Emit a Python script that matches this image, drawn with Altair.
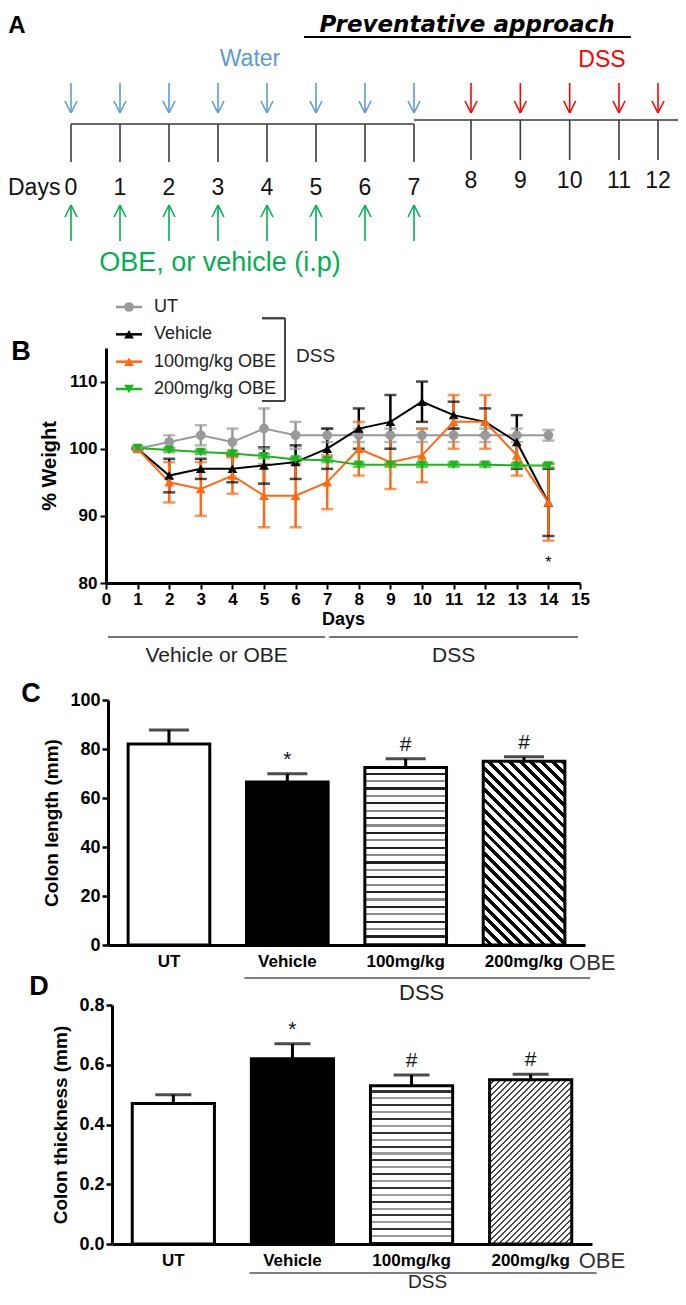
import altair as alt
import pandas as pd

W, H = 670, 1284
F = "Liberation Sans"

# ---------------- Panel A : protocol timeline ----------------
phase_names = ["Water", "DSS"]
phase_colors = ["#5B9BD5", "#FF0000"]
water_days = [0, 1, 2, 3, 4, 5, 6, 7]
dss_days = [8, 9, 10, 11, 12]
injection_days = [0, 1, 2, 3, 4, 5, 6, 7]
injection_label = "OBE, or vehicle (i.p)"
injection_color = "#00B050"
panelA_title = "Preventative approach"

# ---------------- Panel B : % body weight ----------------
weight_days = list(range(1, 15))
series_names = ["UT", "Vehicle", "100mg/kg OBE", "200mg/kg OBE"]
series_colors = ["#999999", "#000000", "#FF6A13", "#1DB51D"]
series_shapes = ["circle", "triangle-up", "triangle-up", "triangle-down"]
ut_mean = [100, 101, 102, 101, 103, 102, 102, 102, 102, 102, 102, 102, 102, 102]
ut_err = [0, 1, 1.5, 2, 3, 2, 1, 1, 1, 1, 1, 1, 1, 0.8]
veh_mean = [100, 96, 97, 97, 97.5, 98, 100, 103, 104, 107, 105, 104, 101, 92]
veh_err = [0, 2.5, 1.5, 2, 2.7, 2.5, 3, 3, 4, 3, 2, 2, 4, 5]
obe100_mean = [100, 95, 94, 96, 93, 93, 95, 100, 98, 99, 104, 104, 99, 92]
obe100_err = [0, 3, 4, 2.7, 4.7, 4.7, 4, 4, 4, 4, 4, 4, 3, 5.7]
obe200_mean = [100.1, 99.8, 99.5, 99.3, 98.9, 98.4, 98.3, 97.6, 97.6, 97.6, 97.6, 97.6, 97.5, 97.5]
obe200_err = [0.3, 0.3, 0.3, 0.3, 0.3, 0.3, 0.3, 0.3, 0.3, 0.3, 0.3, 0.3, 0.3, 0.3]
weight_star_day = [14]
weight_star_value = [83]
period_names = ["Vehicle or OBE", "DSS"]
period_start = [0, 7]
period_end = [7, 15]

# ---------------- Panels C, D : colon ----------------
groups = ["UT", "Vehicle", "100mg/kg", "200mg/kg"]
length_mean = [82, 66.5, 72.5, 75]
length_err = [5.8, 3.4, 3.5, 1.8]
length_marks = ["", "*", "#", "#"]
thick_mean = [0.47, 0.62, 0.53, 0.55]
thick_err = [0.03, 0.05, 0.036, 0.018]
thick_marks = ["", "*", "#", "#"]


def txt(text, x, y, size, color="#000000", weight="normal", style="normal",
        align="center", baseline="middle", font=F):
    return alt.Chart(pd.DataFrame({"t": [text]})).mark_text(
        fontSize=size, color=color, fontWeight=weight, fontStyle=style,
        align=align, baseline=baseline, font=font,
    ).encode(x=alt.value(x), y=alt.value(y), text="t:N")


# ======================= PANEL A =======================
scaleA = alt.Scale(domain=[0, 7, 8, 11, 12], range=[63, 406, 463, 611, 650])


def xA(field="day"):
    return alt.X(f"{field}:Q", scale=scaleA, axis=None)


def arrows(df, color, y_tail, y_tip):
    d = 1 if y_tip > y_tail else -1
    base = alt.Chart(df)
    shaft = base.mark_rule(strokeWidth=1.6, color=color).encode(
        x=xA(), y=alt.value(y_tail), y2=alt.value(y_tip))
    hl = base.mark_rule(strokeWidth=1.6, color=color, x2Offset=-6).encode(
        x=xA(), x2="day:Q", y=alt.value(y_tip), y2=alt.value(y_tip - d * 12))
    hr = base.mark_rule(strokeWidth=1.6, color=color, x2Offset=6).encode(
        x=xA(), x2="day:Q", y=alt.value(y_tip), y2=alt.value(y_tip - d * 12))
    return [shaft, hl, hr]


water_df = pd.DataFrame({"day": water_days})
dss_df = pd.DataFrame({"day": dss_days})
inj_df = pd.DataFrame({"day": injection_days})

line_col = "#3A3A3A"
tl_left = alt.Chart(pd.DataFrame({"s": [water_days[0]], "e": [water_days[-1]]})).mark_rule(
    strokeWidth=1.6, color=line_col).encode(x=xA("s"), x2="e:Q", y=alt.value(116))
tl_right = alt.Chart(pd.DataFrame({"s": [water_days[-1]]})).mark_rule(
    strokeWidth=1.6, color=line_col).encode(x=xA("s"), x2=alt.value(W), y=alt.value(112))
ticks_left = alt.Chart(water_df).mark_rule(strokeWidth=1.6, color=line_col).encode(
    x=xA(), y=alt.value(116), y2=alt.value(154))
ticks_right = alt.Chart(dss_df).mark_rule(strokeWidth=1.6, color=line_col).encode(
    x=xA(), y=alt.value(112), y2=alt.value(152))
lab_left = alt.Chart(water_df).mark_text(fontSize=23, font=F, color="#111111").encode(
    x=xA(), y=alt.value(180), text="day:Q")
lab_right = alt.Chart(dss_df).mark_text(fontSize=23, font=F, color="#111111").encode(
    x=xA(), y=alt.value(173), text="day:Q")

panelA = alt.layer(
    tl_left, tl_right, ticks_left, ticks_right, lab_left, lab_right,
    *arrows(water_df, phase_colors[0], 75, 105),
    *arrows(dss_df, phase_colors[1], 75, 105),
    *arrows(inj_df, injection_color, 233, 197),
)

a_texts = [
    txt("A", 9, 18, 24, weight="bold"),
    txt(panelA_title, 459, 24, 23, weight="bold", style="italic", baseline="alphabetic",
        font="DejaVu Sans"),
    txt("Days", 0, 180, 23, align="left", color="#111111"),
    txt(phase_names[0], 242, 51, 23, color=phase_colors[0]),
    txt(phase_names[1], 594, 52, 23, color=phase_colors[1]),
    txt(injection_label, 212, 255, 27, color=injection_color),
]
underline = alt.Chart(pd.DataFrame({"t": [panelA_title]})).mark_rule(
    strokeWidth=2, color="black").encode(x=alt.value(296), x2=alt.value(623), y=alt.value(29))

# ======================= PANEL B =======================
rows = []
for name, means, errs in zip(series_names, [ut_mean, veh_mean, obe100_mean, obe200_mean],
                             [ut_err, veh_err, obe100_err, obe200_err]):
    for d, m, e in zip(weight_days, means, errs):
        rows.append({"series": name, "day": d, "mean": m, "err": e})
dfB = pd.DataFrame(rows)

sxB = alt.Scale(domain=[0, 15], range=[98, 572], nice=False, zero=False)
syB = alt.Scale(domain=[80, 115], range=[575, 340], nice=False, zero=False)
colB = alt.Color("series:N", scale=alt.Scale(domain=series_names, range=series_colors), legend=None)
shpB = alt.Shape("series:N", scale=alt.Scale(domain=series_names, range=series_shapes), legend=None)

axBx = alt.Axis(orient="bottom", offset=575 - H, values=list(range(16)), title="Days",
                labelFont=F, labelFontWeight="bold", labelFontSize=17, labelColor="black",
                labelPadding=2, labelOverlap=False, labelFlush=False,
                tickSize=6, tickWidth=2, tickColor="black",
                domainWidth=3, domainColor="black", grid=False,
                titleFont=F, titleFontSize=18, titleFontWeight="bold", titleColor="black",
                titlePadding=3)
axBy = alt.Axis(orient="left", offset=-98, values=[80, 90, 100, 110], title="% Weight",
                labelFont=F, labelFontWeight="bold", labelFontSize=17, labelColor="black",
                labelPadding=3, tickSize=6, tickWidth=2, tickColor="black",
                domainWidth=3, domainColor="black", grid=False,
                titleFont=F, titleFontSize=20, titleFontWeight="bold", titleColor="black",
                titlePadding=9)

baseB = alt.Chart(dfB).transform_calculate(lo="datum.mean - datum.err", hi="datum.mean + datum.err")
errB = baseB.mark_rule(strokeWidth=2.5).encode(
    x=alt.X("day:Q", scale=sxB), y=alt.Y("lo:Q", scale=syB), y2="hi:Q", color=colB)
capHiB = baseB.mark_tick(orient="horizontal", size=12, thickness=2.5).encode(
    x=alt.X("day:Q", scale=sxB), y=alt.Y("hi:Q", scale=syB), color=colB)
capLoB = baseB.mark_tick(orient="horizontal", size=12, thickness=2.5).encode(
    x=alt.X("day:Q", scale=sxB), y=alt.Y("lo:Q", scale=syB), color=colB)
lineB = baseB.mark_line(strokeWidth=2).encode(
    x=alt.X("day:Q", scale=sxB, axis=axBx), y=alt.Y("mean:Q", scale=syB, axis=axBy), color=colB)
ptsB = baseB.mark_point(filled=True, size=95, opacity=1).encode(
    x=alt.X("day:Q", scale=sxB), y=alt.Y("mean:Q", scale=syB),
    color=colB, shape=shpB)
starB = alt.Chart(pd.DataFrame({"day": weight_star_day, "v": weight_star_value, "t": ["*"]})).mark_text(
    fontSize=16, font=F, baseline="middle").encode(
    x=alt.X("day:Q", scale=sxB), y=alt.Y("v:Q", scale=syB), text="t:N")

per_df = pd.DataFrame({"name": period_names, "start": period_start, "end": period_end})
perLine = alt.Chart(per_df).mark_rule(strokeWidth=1.6, color="#444444", xOffset=2, x2Offset=-2).encode(
    x=alt.X("start:Q", scale=sxB), x2="end:Q", y=alt.value(629))
perText = alt.Chart(per_df).transform_calculate(mid="(datum.start + datum.end) / 2").mark_text(
    fontSize=21, font=F, color="#222222", baseline="middle").encode(
    x=alt.X("mid:Q", scale=sxB), y=alt.value(648), text="name:N")

panelB = alt.layer(errB, capHiB, capLoB, lineB, ptsB, starB, perLine, perText)

# legend for panel B
legY = alt.Scale(type="point", domain=series_names, range=[299, 381], padding=0)
leg_df = pd.DataFrame({"series": series_names})
legLine = alt.Chart(leg_df).mark_rule(strokeWidth=2.5).encode(
    x=alt.value(108), x2=alt.value(134), y=alt.Y("series:N", scale=legY, axis=None), color=colB)
legPts = alt.Chart(leg_df).mark_point(filled=True, size=95, opacity=1).encode(
    x=alt.value(121), y=alt.Y("series:N", scale=legY, axis=None), color=colB, shape=shpB)
legTxt = alt.Chart(leg_df).mark_text(fontSize=18, font=F, color="#222222", align="left").encode(
    x=alt.value(146), y=alt.Y("series:N", scale=legY, axis=None), text="series:N")
brV = alt.Chart(leg_df).mark_rule(strokeWidth=1.6, color="#444444", yOffset=-16, y2Offset=12).encode(
    x=alt.value(277), y=alt.Y(datum=series_names[1], scale=legY, axis=None), y2=alt.datum(series_names[3]))
brT = alt.Chart(leg_df).mark_rule(strokeWidth=1.6, color="#444444", yOffset=-16).encode(
    x=alt.value(254), x2=alt.value(277), y=alt.Y(datum=series_names[1], scale=legY, axis=None))
brB = alt.Chart(leg_df).mark_rule(strokeWidth=1.6, color="#444444", yOffset=12).encode(
    x=alt.value(254), x2=alt.value(277), y=alt.Y(datum=series_names[3], scale=legY, axis=None))
brText = alt.Chart(pd.DataFrame({"t": ["DSS"]})).mark_text(
    fontSize=19, font=F, color="#222222", align="left", yOffset=-6).encode(
    x=alt.value(288), y=alt.Y(datum=series_names[2], scale=legY, axis=None), text="t:N")
legendB = alt.layer(legLine, legPts, legTxt, brV, brT, brB, brText)


# ======================= PANELS C / D =======================
def stripe_stops(n, colors, frac, light="#FFFFFF"):
    stops = []
    for i in range(n):
        a = i / n
        b = (i + 1) / n
        m = a + (1 - frac) / n
        c = colors[i % len(colors)]
        stops += [{"offset": round(a, 5), "color": light}, {"offset": round(m, 5), "color": light},
                  {"offset": round(m, 5), "color": c}, {"offset": round(b, 5), "color": c}]
    return stops


def bar_panel(means, errs, marks, x_range, y_range, domain, ticks, fmt, title, cap,
              h_n, h_cols, d_n, d_col, d_frac, diag_back, mark_dy, lab_y, line_y, dss_y,
              obe_dx, dss_size):
    pin, pout = 0.31, 0.17
    step = (x_range[1] - x_range[0]) / (len(groups) - pin + 2 * pout)
    bw = step * (1 - pin)
    ppu = (y_range[0] - y_range[1]) / (domain[1] - domain[0])
    df = pd.DataFrame({"group": groups, "mean": means, "err": errs, "mark": marks})
    sx = alt.Scale(domain=groups, range=x_range, paddingInner=pin, paddingOuter=pout)
    sy = alt.Scale(domain=domain, range=y_range, nice=False, zero=True)
    axx = alt.Axis(orient="bottom", offset=y_range[0] - H, title=None, ticks=False,
                   labelFont=F, labelFontWeight="bold", labelFontSize=17, labelColor="black",
                   labelPadding=8, labelAngle=0, domainWidth=3, domainColor="black", grid=False)
    axy = alt.Axis(orient="left", offset=-x_range[0], values=ticks, format=fmt, title=title,
                   labelFont=F, labelFontWeight="bold", labelFontSize=18, labelColor="black",
                   labelPadding=2, tickSize=6, tickWidth=2.5, tickColor="black",
                   domainWidth=3, domainColor="black", grid=False,
                   titleFont=F, titleFontSize=19, titleFontWeight="bold", titleColor="black",
                   titlePadding=8)
    base = alt.Chart(df).transform_calculate(hi="datum.mean + datum.err")

    hfill = {"gradient": "linear", "x1": 0, "y1": 0, "x2": 0, "y2": 1,
             "stops": stripe_stops(h_n, h_cols, 0.3)}
    hd = means[3] * ppu
    k = (bw + hd) / (bw * bw + hd * hd)
    if diag_back:   # "\\\\" stripes
        dfill = {"gradient": "linear", "x1": 0, "y1": 1, "x2": round(k * bw, 5),
                 "y2": round(1 - k * hd, 5), "stops": stripe_stops(d_n, [d_col], d_frac)}
    else:           # "////" stripes
        dfill = {"gradient": "linear", "x1": 0, "y1": 0, "x2": round(k * bw, 5),
                 "y2": round(k * hd, 5), "stops": stripe_stops(d_n, [d_col], d_frac)}
    fills = ["#FFFFFF", "#000000", hfill, dfill]
    layers = []
    for i, g in enumerate(groups):
        if i == 0:
            xe = alt.X("group:N", scale=sx, axis=axx, sort=groups)
            ye = alt.Y("mean:Q", scale=sy, axis=axy)
        else:
            xe = alt.X("group:N", scale=sx, sort=groups)
            ye = alt.Y("mean:Q", scale=sy)
        layers.append(base.transform_filter(alt.datum.group == g).mark_bar(
            fill=fills[i], stroke="black", strokeWidth=3).encode(x=xe, y=ye))
    layers.append(base.mark_rule(strokeWidth=3, color="black").encode(
        x=alt.X("group:N", scale=sx, sort=groups),
        y=alt.Y("mean:Q", scale=sy), y2="hi:Q"))
    layers.append(base.mark_tick(orient="horizontal", size=cap, thickness=3, color="black").encode(
        x=alt.X("group:N", scale=sx, sort=groups),
        y=alt.Y("hi:Q", scale=sy)))
    layers.append(base.mark_text(fontSize=21, font=F, color="#111111", baseline="middle",
                                 dy=mark_dy).encode(
        x=alt.X("group:N", scale=sx, sort=groups),
        y=alt.Y("hi:Q", scale=sy), text="mark:N"))
    one = pd.DataFrame({"t": ["OBE"]})
    layers.append(alt.Chart(one).mark_text(fontSize=22, font=F, color="#333333", align="left",
                                           baseline="middle", dx=obe_dx).encode(
        x=alt.X(datum=groups[3], scale=sx), y=alt.value(lab_y), text="t:N"))
    layers.append(alt.Chart(one).mark_rule(strokeWidth=1.6, color="#555555",
                                           xOffset=-43, x2Offset=66).encode(
        x=alt.X(datum=groups[1], scale=sx), x2=alt.datum(groups[3]),
        y=alt.value(line_y)))
    layers.append(alt.Chart(pd.DataFrame({"t": ["DSS"]})).mark_text(
        fontSize=dss_size, font=F, color="#222222", baseline="middle", dx=16).encode(
        x=alt.X(datum=groups[2], scale=sx), y=alt.value(dss_y), text="t:N"))
    return alt.layer(*layers)


panelC = bar_panel(length_mean, length_err, length_marks, [100, 577], [937, 692], [0, 100],
                   [0, 20, 40, 60, 80, 100], "d", "Colon length (mm)", 40,
                   24, ["#222222", "#8A8A8A"], 25, "#000000", 0.45, True, -14,
                   955, 970, 985, 45, 22)
panelD = bar_panel(thick_mean, thick_err, thick_marks, [104, 584], [1236, 997], [0, 0.8],
                   [0.0, 0.2, 0.4, 0.6, 0.8], ".1f", "Colon thickness (mm)", 36,
                   23, ["#333333", "#9A9A9A"], 41, "#444444", 0.32, False, -14,
                   1253, 1265, 1274, 48, 19)

letters = [txt("B", 13, 344, 27, weight="bold"),
           txt("C", 23, 686, 27, weight="bold"),
           txt("D", 31, 979, 27, weight="bold")]

chart = alt.layer(
    panelA, *a_texts, underline,
    panelB, legendB,
    panelC, panelD,
    *letters,
).resolve_scale(
    x="independent", y="independent", color="independent", shape="independent"
).properties(
    width=W, height=H, autosize=alt.AutoSizeParams(type="none"), padding=0
).configure_view(strokeWidth=0)

chart.save("out.html", embed_options={"renderer": "svg", "actions": False})
